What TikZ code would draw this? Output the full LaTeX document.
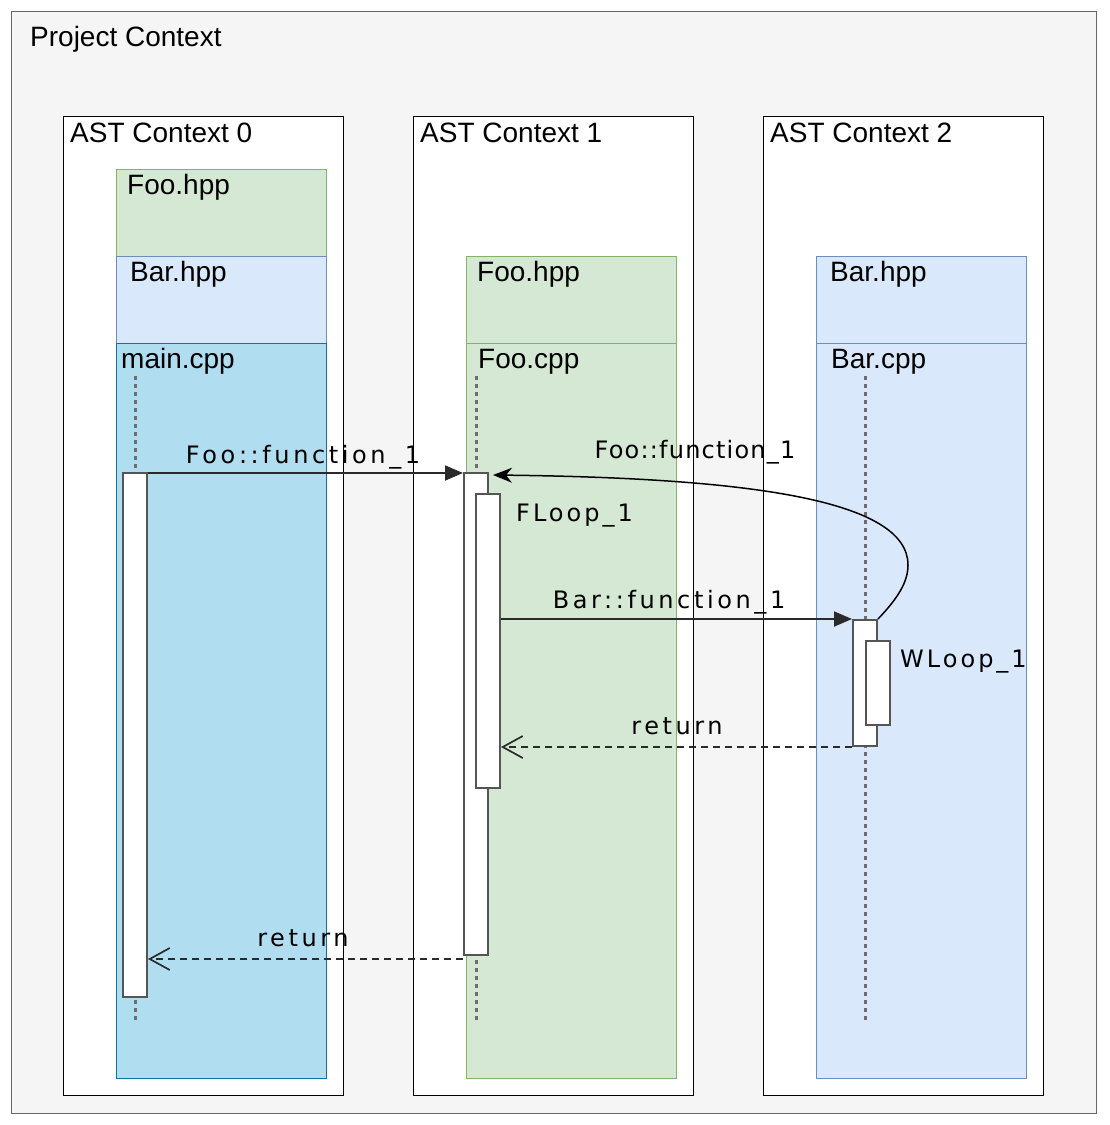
\documentclass[tikz,border=0pt]{standalone}
\usepackage{fontspec}
\setmainfont{Liberation Sans}
\newfontfamily\lblfont{DejaVu Sans}
\newfontfamily\lblwide{DejaVu Sans}[LetterSpace=15]
\newfontfamily\lblmid{DejaVu Sans}[LetterSpace=12.5]
\newfontfamily\lblnarrow{DejaVu Sans}[LetterSpace=5]
\usetikzlibrary{arrows.meta,calc}
\definecolor{projfill}{HTML}{F5F5F5}
\definecolor{projline}{HTML}{666666}
\definecolor{gfill}{HTML}{D5E8D4}
\definecolor{gline}{HTML}{82B366}
\definecolor{bfill}{HTML}{DAE8FC}
\definecolor{bline}{HTML}{6C8EBF}
\definecolor{cfill}{HTML}{B1DDF0}
\definecolor{cline}{HTML}{10739E}
\definecolor{actline}{HTML}{555555}
\definecolor{arrline}{HTML}{2A2A2A}
\tikzset{
  head/.style={font=\fontsize{28}{32}\selectfont, anchor=base west, inner sep=0pt},
  lbl/.style={font=\lblwide\fontsize{24}{28}\selectfont, inner sep=0pt},
  box/.style={draw, line width=1.2pt, anchor=north west, inner sep=0pt},
  astbox/.style={box, fill=white, draw=black, minimum width=280pt, minimum height=979pt},
  gbox/.style={box, fill=gfill, draw=gline, minimum width=210pt},
  bbox/.style={box, fill=bfill, draw=bline, minimum width=210pt},
  cbox/.style={box, fill=cfill, draw=cline, minimum width=210pt},
  lifeline/.style={draw=actline!85, line width=3pt, dash pattern=on 3.5pt off 4.5pt},
  actbar/.style={draw=actline, fill=white, line width=2pt, minimum width=24pt, inner sep=0pt},
  callarr/.style={draw=arrline, line width=1.8pt, -{Triangle[length=18pt,width=15pt]}},
  retarr/.style={draw=arrline, line width=1.7pt, dash pattern=on 7pt off 5pt, -{Straight Barb[length=20pt,width=22pt,line width=1.7pt]}},
}
\begin{document}
\begin{tikzpicture}[x=1pt,y=-1pt]
\useasboundingbox (0,0) rectangle (1110,1125);
% project context
\node[box, fill=projfill, draw=projline, minimum width=1085pt, minimum height=1102pt] (proj) at (11,11) {};
\node[head] (projlbl) at (30,46) {Project Context};
% AST contexts
\node[astbox] (ast0) at (63,116) {};
\node[astbox] (ast1) at (413,116) {};
\node[astbox] (ast2) at (763,116) {};
\node[head] (ast0lbl) at (70,142) {AST Context 0};
\node[head] (ast1lbl) at (420,142) {AST Context 1};
\node[head] (ast2lbl) at (770,142) {AST Context 2};
% files context 0
\node[gbox, minimum height=87pt] (foohpp0) at (116,169) {};
\node[bbox, minimum height=87pt] (barhpp0) at (116,256) {};
\node[cbox, minimum height=735pt] (maincpp) at (116,343) {};
\node[head] (foohpp0lbl) at (127,194) {Foo.hpp};
\node[head] (barhpp0lbl) at (130,281) {Bar.hpp};
\node[head] (maincpplbl) at (121,368) {main.cpp};
% files context 1
\node[gbox, minimum height=87pt] (foohpp1) at (466,256) {};
\node[gbox, minimum height=735pt] (foocpp) at (466,343) {};
\node[head] (foohpp1lbl) at (477,281) {Foo.hpp};
\node[head] (foocpplbl) at (478,368) {Foo.cpp};
% files context 2
\node[bbox, minimum height=87pt] (barhpp2) at (816,256) {};
\node[bbox, minimum height=735pt] (barcpp) at (816,343) {};
\node[head] (barhpp2lbl) at (830,281) {Bar.hpp};
\node[head] (barcpplbl) at (831,368) {Bar.cpp};
% lifelines
\coordinate (l0a) at (135,376); \coordinate (l0b) at (135,1020);
\coordinate (l1a) at (476,376); \coordinate (l1b) at (476,1020);
\coordinate (l2a) at (865,376); \coordinate (l2b) at (865,1020);
\draw[lifeline] (l0a) -- (l0b);
\draw[lifeline] (l1a) -- (l1b);
\draw[lifeline] (l2a) -- (l2b);
% activation bars
\node[actbar, minimum height=524pt] (mainact) at (135,735) {};
\node[actbar, minimum height=482pt] (fooact) at (476,714) {};
\node[actbar, minimum height=294pt] (floop) at (488,641) {};
\node[actbar, minimum height=126pt] (baract) at (865,683) {};
\node[actbar, minimum height=84pt] (wloop) at (878,683) {};
% calls
\draw[callarr] ($(mainact.north east)+(0,1)$) -- ($(fooact.north west)+(0,1)$);
\node[lbl, anchor=base] (call1lbl) at (303,463) {Foo::function\_1};
\draw[callarr] (floop.east |- baract.north) -- (baract.north west);
\node[lbl, anchor=base] (call2lbl) at (669,608) {Bar::function\_1};
\coordinate (curvetop) at (908,565);
\draw[line width=1.5pt, -{Stealth[length=19pt,width=15pt,inset=6pt]}]
  (baract.north east) .. controls (898,598) and (908,582) .. (curvetop)
  .. controls (908,500) and (750,478) .. ($(fooact.north east)+(4,3)$);
\node[lbl, font=\lblnarrow\fontsize{24}{28}\selectfont, anchor=base] (call3lbl) at (695,458) {Foo::function\_1};
% returns
\draw[retarr] (baract.south west) -- (floop.east |- baract.south);
\node[lbl, anchor=base] (ret1lbl) at (677,734) {return};
\draw[retarr] ($(fooact.south west)+(0,3)$) -- ($(mainact.east |- fooact.south)+(0,3)$);
\node[lbl, anchor=base] (ret2lbl) at (303,946) {return};
% loop labels
\node[lbl, font=\lblmid\fontsize{24}{28}\selectfont, anchor=base west] (flooplbl) at (516,521) {FLoop\_1};
\node[lbl, font=\lblmid\fontsize{24}{28}\selectfont, anchor=base west] (wlooplbl) at (900,667) {WLoop\_1};
\end{tikzpicture}
\end{document}
